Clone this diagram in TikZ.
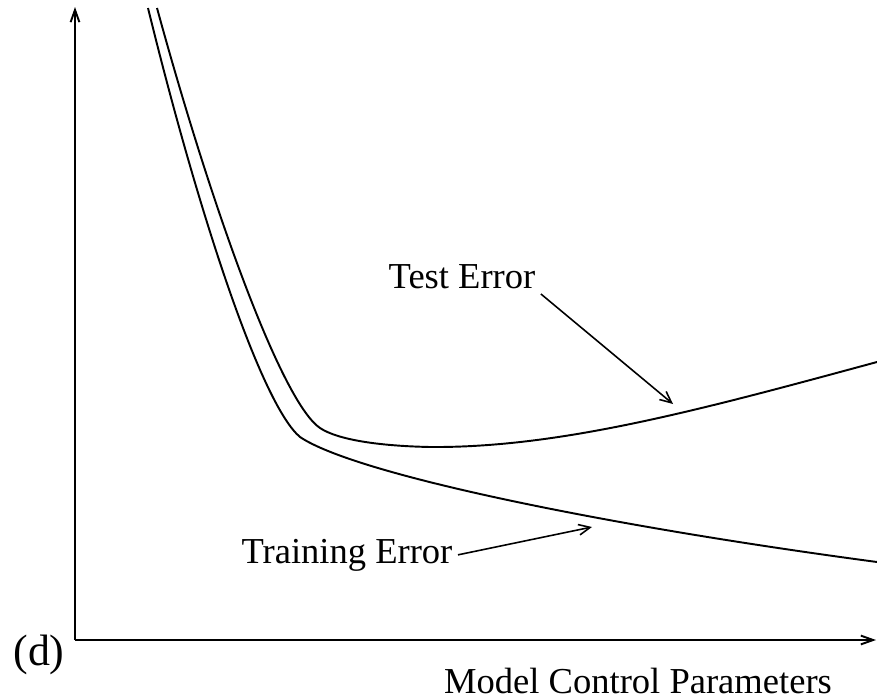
\documentclass[tikz,border=0pt]{standalone}
\usepackage{fontspec}
\setmainfont{Liberation Serif}
\usetikzlibrary{arrows.meta, positioning, calc}

\begin{document}
\begin{tikzpicture}[
      x=0.02cm, y=-0.02cm,
      axis/.style={-{Straight Barb[length=7pt, width=5pt]}, line width=1.1pt},
      curve/.style={line width=1.1pt},
      lbl/.style={font=\fontsize{20.8}{24}\selectfont, inner sep=3pt},
      arr/.style={-{Straight Barb[length=6.5pt, width=6pt]}, line width=0.9pt}
    ]
    \useasboundingbox (0,0) rectangle (877,700);

    % axes
    \coordinate (origin) at (75,640);
    \coordinate (ytop) at (75,7);
    \coordinate (xend) at (876,640);
    \draw[axis] (origin) -- (ytop);
    \draw[axis] (origin) -- (xend);

    % training error
    \draw[curve] (148,8) .. controls (200,220) and (262,405) .. (300,437)
      .. controls (355,474) and (600,525) .. (877,562);
    % test error
    \draw[curve] (157,8) .. controls (215,220) and (283,403) .. (320,428)
      .. controls (338,440) and (380,446) .. (430,447)
      .. controls (560,448) and (700,410) .. (877,362);

    % labels
    \node[lbl, anchor=base] (testlbl) at (462,288) {Test Error};
    \node[lbl, anchor=base] (trainlbl) at (347,563) {Training Error};
    \node[lbl, anchor=base, inner sep=0pt] (xlbl) at (638,693) {Model Control Parameters};
    \node[lbl, anchor=base, font=\fontsize{25}{28}\selectfont] (dlbl) at (39,665) {(d)};

    % pointers
    \coordinate (testtip) at (673,404);
    \coordinate (traintip) at (592,527);
    \draw[arr] (testlbl.south east) -- (testtip);
    \draw[arr] (trainlbl.east) -- (traintip);
  \end{tikzpicture}
\end{document}
